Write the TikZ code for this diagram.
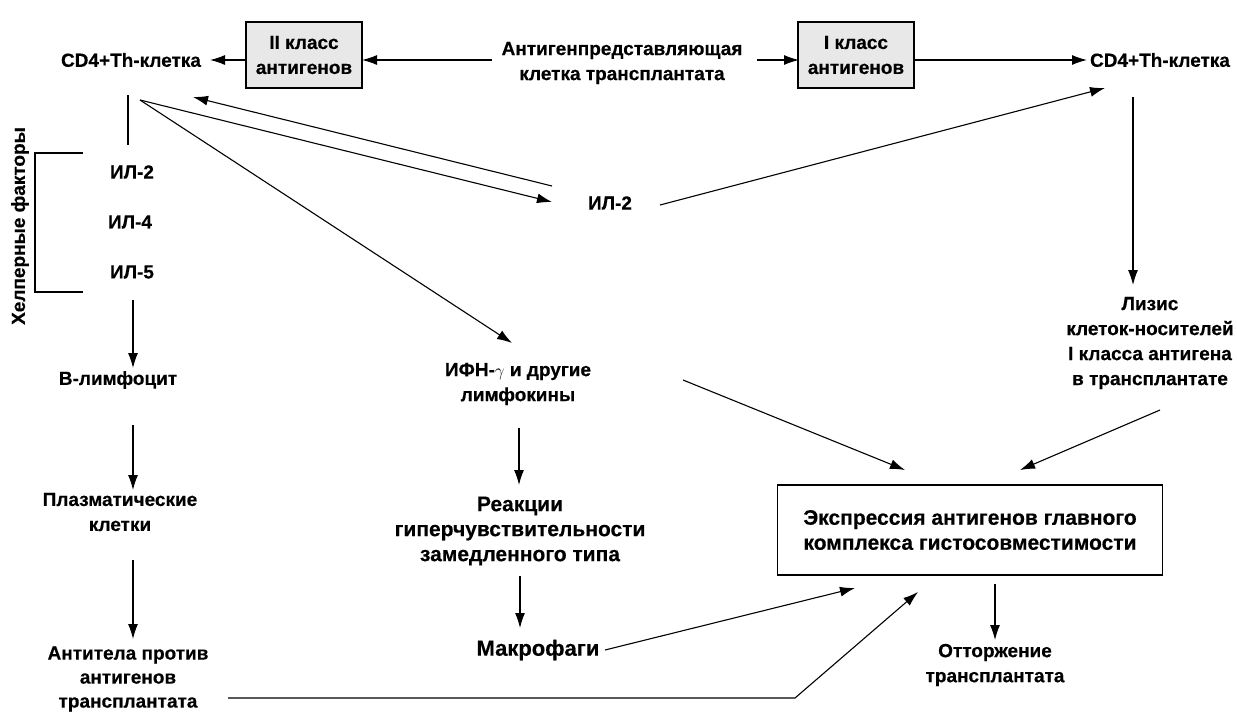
\documentclass[tikz,border=0pt]{standalone}
\usepackage{fontspec}
\setmainfont{Liberation Sans}[BoldFeatures={FakeBold=0.4}]
\usetikzlibrary{arrows.meta,calc}
\tikzset{
  txt/.style={font=\fontsize{19}{25}\selectfont\bfseries, align=center, inner sep=2pt},
  big/.style={font=\fontsize{21}{25}\selectfont\bfseries},
  gbox/.style={txt, draw, line width=1.8, fill=gray!18, minimum width=116, minimum height=66},
  wbox/.style={txt, big, draw, line width=1.3, minimum width=385, minimum height=90},
  arr/.style={line width=1.1, -{Latex[length=15,width=10]}},
  ln/.style={line width=1.1}
}
\begin{document}
\begin{tikzpicture}[x=1pt,y=-1pt]
\useasboundingbox (0,0) rectangle (1237,715);
% nodes
\node[txt] (cd4l) at (131,60) {CD4+Th-клетка};
\node[gbox] (cl2) at (304,55) {II класс\\антигенов};
\node[txt] (apc) at (622,63) {Антигенпредставляющая\\клетка трансплантата};
\node[gbox] (cl1) at (856,55) {I класс\\антигенов};
\node[txt] (cd4r) at (1160,60) {CD4+Th-клетка};
\node[txt] (il2a) at (132,172) {ИЛ-2};
\node[txt] (il4) at (130,222) {ИЛ-4};
\node[txt] (il5) at (132,272) {ИЛ-5};
\node[txt, rotate=90] (hf) at (20,226) {Хелперные факторы};
\node[txt] (il2m) at (610,203) {ИЛ-2};
\node[txt] (bl) at (118,380) {В-лимфоцит};
\node[txt] (pl) at (120,512) {Плазматические\\клетки};
\node[txt, font=\fontsize{19}{24}\selectfont\bfseries] (ab) at (128,679) {Антитела против\\антигенов\\трансплантата};
\node[txt] (ifn) at (518,384) {ИФН-$\gamma$ и другие\\лимфокины};
\node[txt, big] (rx) at (520,531) {Реакции\\гиперчувствительности\\замедленного типа};
\node[txt, font=\fontsize{22}{25}\selectfont\bfseries] (mac) at (538,650) {Макрофаги};
\node[wbox] (ex) at (970,530) {Экспрессия антигенов главного\\комплекса гистосовместимости};
\node[txt] (ot) at (995,665) {Отторжение\\трансплантата};
\node[txt] (lys) at (1150,343) {Лизис\\клеток-носителей\\I класса антигена\\в трансплантате};
\coordinate (hub) at ($(cd4l)+(9,40)$);
% top row
\draw[arr] ($(apc)+(-130,-3)$) -- ($(cl2)+(58,5)$);
\draw[arr] ($(cl2)+(-58,5)$) -- ($(cd4l)+(79,0)$);
\draw[arr] ($(apc)+(135,-3)$) -- ($(cl1)+(-57,5)$);
\draw[arr] ($(cl1)+(57,5)$) -- ($(cd4r)+(-73,0)$);
% left column
\draw[ln] ($(cd4l)+(-3,35)$) -- ($(cd4l)+(-3,85)$);
\draw[ln] ($(il2a)+(-49,-19)$) -- ++(-48,0) |- ($(il5)+(-49,20)$);
\draw[arr] ($(il5)+(1,28)$) -- ($(bl)+(15,-12)$);
\draw[arr] ($(bl)+(15,45)$) -- ($(pl)+(13,-22)$);
\draw[arr] ($(pl)+(13,48)$) -- ($(ab)+(5,-40)$);
% hub arrows
\draw[arr] (hub) -- ($(il2m)+(-58,-1)$);
\draw[arr] ($(il2m)+(-58,-17)$) -- ($(cd4l)+(62,37)$);
\draw[arr] (hub) -- ($(ifn)+(-6,-41)$);
\draw[arr] ($(il2m)+(50,2)$) -- ($(cd4r)+(-55,28)$);
% right column
\draw[arr] ($(cd4r)+(-27,37)$) -- ($(lys)+(-17,-58)$);
\draw[arr] ($(lys)+(10,67)$) -- ($(ex)+(50,-60)$);
% middle
\draw[arr] ($(ifn)+(165,-4)$) -- ($(ex)+(-65,-60)$);
\draw[arr] ($(ifn)+(1,44)$) -- ($(rx)+(-1,-46)$);
\draw[arr] ($(rx)+(0,45)$) -- ($(mac)+(-18,-22)$);
\draw[arr] ($(mac)+(67,0)$) -- ($(ex)+(-115,58)$);
\draw[arr] ($(ab)+(100,19)$) -- ++(567,0) -- ($(ex)+(-52,62)$);
\draw[arr] ($(ex)+(25,54)$) -- ($(ot)+(0,-25)$);
\end{tikzpicture}
\end{document}
